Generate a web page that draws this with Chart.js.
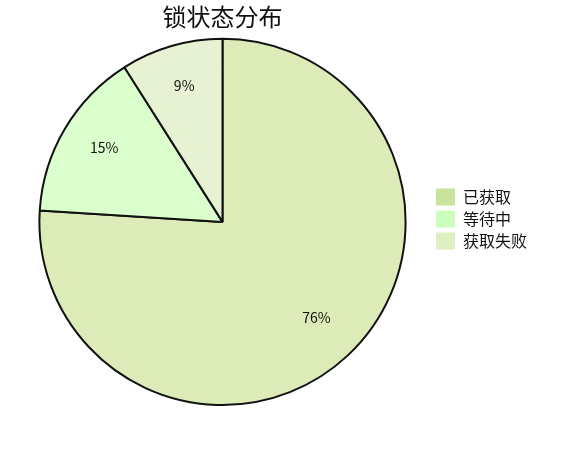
<!DOCTYPE html>
<html lang="zh">
<head>
    <meta charset="UTF-8">
    <title>锁状态分布</title>
    <script src="https://cdn.jsdelivr.net/npm/chart.js"></script>
    <style>
        * { margin: 0; padding: 0; box-sizing: border-box; }
        body { background: #fff; }
        .wrap { width: 580px; height: 450px; }
    </style>
</head>
<body>
<div class="wrap"><canvas id="lockChart"></canvas></div>
<script>
    // data
    const labels = ['已获取', '等待中', '获取失败'];
    const values = [76, 15, 9];
    const sliceColors = ['#dcebb7', '#dbffcc', '#e7f2d2'];
    const legendColors = ['#c9e29c', '#ccffbb', '#dfefc4'];

    const FONT = "'Noto Sans CJK SC', 'Microsoft YaHei', sans-serif";

    // percent labels inside slices
    const pctLabels = {
        id: 'pctLabels',
        afterDatasetsDraw(chart) {
            const ctx = chart.ctx;
            const meta = chart.getDatasetMeta(0);
            const total = values.reduce((a, b) => a + b, 0);
            ctx.save();
            ctx.font = "14px " + FONT;
            ctx.fillStyle = '#111';
            ctx.textAlign = 'center';
            ctx.textBaseline = 'middle';
            meta.data.forEach((arc, i) => {
                const p = arc.getProps(['x', 'y', 'startAngle', 'endAngle', 'outerRadius']);
                const mid = (p.startAngle + p.endAngle) / 2;
                const r = p.outerRadius * 0.75;
                const txt = Math.round(values[i] / total * 100) + '%';
                ctx.fillText(txt, p.x + Math.cos(mid) * r, p.y + Math.sin(mid) * r - 4);
            });
            ctx.restore();
        }
    };

    new Chart(document.getElementById('lockChart'), {
        type: 'pie',
        data: {
            labels: labels,
            datasets: [{
                data: values,
                backgroundColor: sliceColors,
                borderColor: '#111',
                borderWidth: 2
            }]
        },
        options: {
            responsive: true,
            maintainAspectRatio: false,
            animation: false,
            layout: { padding: { left: 14, right: 43, top: 0, bottom: 44 } },
            plugins: {
                title: {
                    display: true,
                    text: '锁状态分布',
                    fullSize: false,
                    color: '#111',
                    font: { family: FONT, size: 24, weight: 'normal' },
                    padding: { top: 2, bottom: 7 }
                },
                legend: {
                    position: 'right',
                    // empty title just pushes the items down a bit
                    title: { display: true, text: ' ', font: { size: 10 }, padding: { top: 10, bottom: 10 } },
                    labels: {
                        color: '#111',
                        font: { family: FONT, size: 16 },
                        boxWidth: 19,
                        boxHeight: 17,
                        padding: 5,
                        generateLabels(chart) {
                            return labels.map((l, i) => ({
                                text: l,
                                fillStyle: legendColors[i],
                                strokeStyle: legendColors[i],
                                fontColor: '#111',
                                lineWidth: 0,
                                index: i
                            }));
                        }
                    }
                },
                tooltip: { enabled: false }
            }
        },
        plugins: [pctLabels]
    });
</script>
</body>
</html>
